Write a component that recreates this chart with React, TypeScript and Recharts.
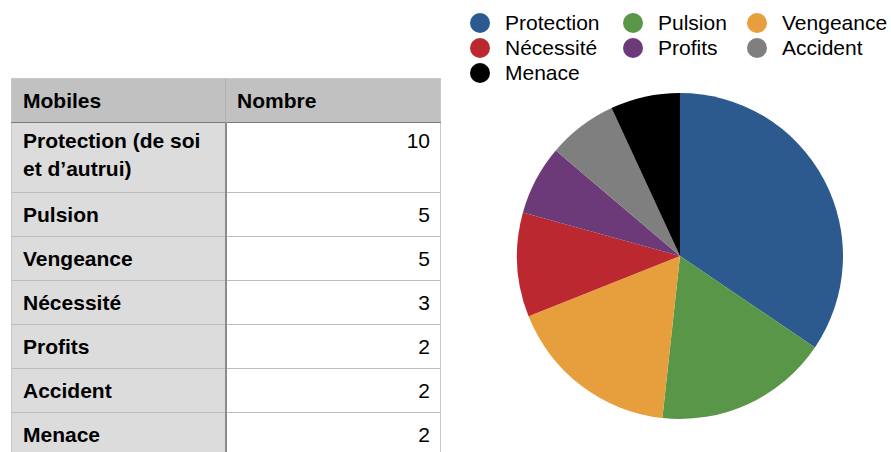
import React from "react";
import { PieChart, Pie, Cell, Legend } from "recharts";

const categories = ["Protection", "Pulsion", "Vengeance", "Nécessité", "Profits", "Accident", "Menace"];
const tableLabels = ["Protection (de soi et d’autrui)", "Pulsion", "Vengeance", "Nécessité", "Profits", "Accident", "Menace"];
const counts = [10, 5, 5, 3, 2, 2, 2];
const colors = ["#2d5a8e", "#5a9648", "#e69f3c", "#bb2830", "#6c3a79", "#7f7f7f", "#000000"];
const headers = ["Mobiles", "Nombre"];

const data = categories.map((name, i) => ({ name, value: counts[i] }));

const FONT = '"Liberation Sans", Arial, Helvetica, sans-serif';

function renderLegend(props: any) {
  // keep the original series order instead of the legend's sorted one
  const payload = [...(props.payload || [])].sort(
    (a: any, b: any) => categories.indexOf(a.value) - categories.indexOf(b.value)
  );
  return (
    <div
      style={{
        display: "grid",
        gridTemplateColumns: "153px 124px 130px",
        fontFamily: FONT,
        fontSize: 21,
        color: "#000",
      }}
    >
      {payload.map((entry: any) => (
        <div key={entry.value} style={{ display: "flex", alignItems: "center", height: 25 }}>
          <span
            style={{
              display: "inline-block",
              width: 20,
              height: 20,
              borderRadius: 10,
              background: entry.color,
              marginRight: 15,
              flexShrink: 0,
            }}
          />
          <span style={{ whiteSpace: "nowrap" }}>{entry.value}</span>
        </div>
      ))}
    </div>
  );
}

function DataTable() {
  const cellBase: React.CSSProperties = {
    fontFamily: FONT,
    fontSize: 21,
    lineHeight: "28px",
    color: "#000",
    verticalAlign: "top",
    borderBottom: "1px solid #bdbdbd",
    padding: "8px 10px 0 11px",
    boxSizing: "border-box",
  };
  return (
    <table
      style={{
        position: "absolute",
        left: 11,
        top: 78,
        borderCollapse: "collapse",
        tableLayout: "fixed",
        width: 429,
        border: "1px solid #c8c8c8",
      }}
    >
      <colgroup>
        <col style={{ width: 214 }} />
        <col style={{ width: 215 }} />
      </colgroup>
      <thead>
        <tr style={{ height: 44, background: "#c1c1c1" }}>
          {headers.map((h, i) => (
            <th
              key={h}
              style={{
                ...cellBase,
                fontWeight: "bold",
                textAlign: "left",
                borderBottom: "1px solid #7a7a7a",
                borderRight: i === 0 ? "1px solid #b0b0b0" : undefined,
              }}
            >
              {h}
            </th>
          ))}
        </tr>
      </thead>
      <tbody>
        {tableLabels.map((label, i) => (
          <tr key={label} style={{ height: i === 0 ? 70 : 44 }}>
            <td
              style={{
                ...cellBase,
                fontWeight: "bold",
                background: "#dcdcdc",
                borderRight: "2px solid #8c8c8c",
                paddingTop: i === 0 ? 4 : 8,
              }}
            >
              {label}
            </td>
            <td
              style={{
                ...cellBase,
                textAlign: "right",
                background: "#fff",
                paddingTop: i === 0 ? 4 : 8,
              }}
            >
              {counts[i]}
            </td>
          </tr>
        ))}
      </tbody>
    </table>
  );
}

export default function App() {
  return (
    <div
      style={{
        position: "absolute",
        left: 0,
        top: 0,
        width: 891,
        height: 452,
        overflow: "hidden",
        background: "#fff",
      }}
    >
      <DataTable />
      <div style={{ position: "absolute", left: 0, top: 0 }}>
        <PieChart width={891} height={452} margin={{ top: 0, right: 0, bottom: 0, left: 0 }}>
          <Pie
            data={data}
            dataKey="value"
            nameKey="name"
            cx={680}
            cy={256}
            outerRadius={163}
            startAngle={90}
            endAngle={-270}
            stroke="none"
            isAnimationActive={false}
          >
            {data.map((d, i) => (
              <Cell key={d.name} fill={colors[i]} />
            ))}
          </Pie>
          <Legend
            content={renderLegend}
            wrapperStyle={{ position: "absolute", left: 470, top: 10, width: 420 }}
          />
        </PieChart>
      </div>
    </div>
  );
}
